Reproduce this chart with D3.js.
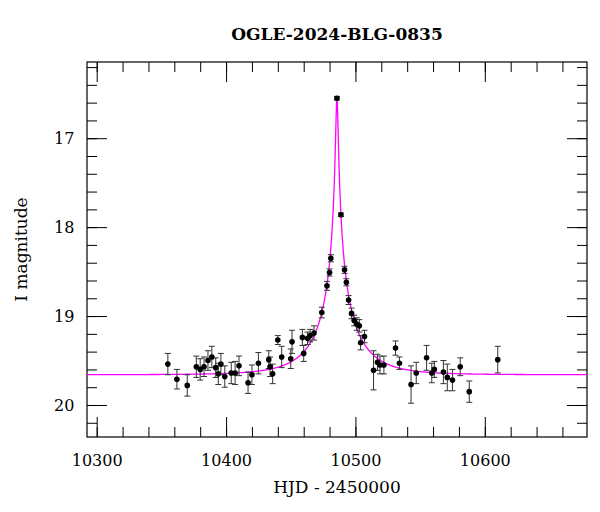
<!DOCTYPE html>
<html>
<head>
<meta charset="utf-8">
<script src="https://cdn.jsdelivr.net/npm/d3@7"></script>
<style>
  body { margin: 0; background: #fff; }
  text { font-family: "DejaVu Serif", serif; }
</style>
</head>
<body>
<div id="chart"></div>
<script>
const width = 600;
const height = 512;
const margin = { top: 62, right: 13, bottom: 75, left: 87 };

// observations: HJD-2450000, I mag, error
const hjd = [10355, 10362, 10370, 10377, 10380, 10383, 10386, 10389, 10392, 10394, 10396, 10399,
  10404, 10407, 10410, 10417, 10420, 10425, 10433, 10434, 10436, 10440, 10443, 10450, 10451,
  10459, 10460, 10463, 10465, 10468, 10474, 10478, 10480, 10481, 10485.7, 10488.8, 10491.6,
  10493, 10494.7, 10497, 10499, 10501, 10503, 10504, 10507, 10514, 10517, 10519, 10522, 10531,
  10534, 10543, 10547, 10555, 10559, 10561, 10568, 10571, 10575, 10581, 10588, 10610];
const mag = [19.54, 19.71, 19.78, 19.57, 19.60, 19.57, 19.50, 19.46, 19.58, 19.65, 19.54, 19.68,
  19.64, 19.64, 19.56, 19.75, 19.66, 19.53, 19.49, 19.57, 19.65, 19.27, 19.46, 19.48, 19.29,
  19.24, 19.42, 19.25, 19.22, 19.19, 18.96, 18.66, 18.51, 18.35, 16.55, 17.86, 18.48,
  18.62, 18.82, 18.97, 19.05, 19.09, 19.11, 19.30, 19.23, 19.61, 19.52, 19.55, 19.55, 19.36,
  19.53, 19.77, 19.64, 19.47, 19.64, 19.60, 19.63, 19.69, 19.72, 19.57, 19.85, 19.49];
const err = [0.12, 0.11, 0.12, 0.12, 0.12, 0.11, 0.11, 0.12, 0.11, 0.12, 0.12, 0.12,
  0.12, 0.13, 0.11, 0.12, 0.11, 0.12, 0.10, 0.11, 0.11, 0.05, 0.12, 0.11, 0.13,
  0.09, 0.09, 0.07, 0.07, 0.08, 0.06, 0.05, 0.04, 0.04, 0.02, 0.02, 0.04,
  0.04, 0.05, 0.06, 0.06, 0.07, 0.07, 0.08, 0.07, 0.22, 0.09, 0.10, 0.10, 0.08,
  0.07, 0.21, 0.12, 0.14, 0.11, 0.09, 0.13, 0.15, 0.12, 0.10, 0.12, 0.15];

// blended point-lens model parameters
const t0 = 10485.7, tE = 35, u0 = 0.0254, fs = 0.43, baseMag = 19.66;

const xTicks = [10300, 10400, 10500, 10600];
const yTicks = [17, 18, 19, 20];

const iw = width - margin.left - margin.right;
const ih = height - margin.top - margin.bottom;

const x = d3.scaleLinear().domain([10292.5, 10679]).range([0, iw]);
const y = d3.scaleLinear().domain([16.143, 20.36]).range([0, ih]);

const svg = d3.select('#chart').append('svg')
  .attr('width', width).attr('height', height);
const g = svg.append('g').attr('transform', `translate(${margin.left},${margin.top})`);

// ticks on all four sides, pointing inward
const xMinor = d3.range(10300, 10680, 20);
const yMinor = d3.range(16.2, 20.35, 0.2);
function ticks(axis, tr, vals, size, fmt) {
  const a = g.append('g').attr('transform', tr)
    .call(axis.tickValues(vals).tickSize(size).tickSizeOuter(0).tickFormat(fmt));
  a.select('.domain').remove();
  a.selectAll('line').attr('stroke', '#000');
  return a;
}
const none = () => '';
ticks(d3.axisBottom(x), `translate(0,${ih})`, xMinor, -10, none);
ticks(d3.axisBottom(x), `translate(0,${ih})`, xTicks, -20, d3.format('d'))
  .selectAll('text').attr('dy', '1.6em').attr('font-size', 16);
ticks(d3.axisTop(x), 'translate(0,0)', xMinor, -10, none);
ticks(d3.axisTop(x), 'translate(0,0)', xTicks, -20, none);
ticks(d3.axisLeft(y), 'translate(0,0)', yMinor, -10, none);
ticks(d3.axisLeft(y), 'translate(0,0)', yTicks, -20, d3.format('d'))
  .selectAll('text').attr('dx', '-0.6em').attr('font-size', 16);
ticks(d3.axisRight(y), `translate(${iw},0)`, yMinor, -10, none);
ticks(d3.axisRight(y), `translate(${iw},0)`, yTicks, -20, none);

g.append('rect').attr('width', iw).attr('height', ih)
  .attr('fill', 'none').attr('stroke', '#000').attr('stroke-width', 1.2);

// model curve
g.append('clipPath').attr('id', 'clip').append('rect').attr('width', iw).attr('height', ih);
const model = d3.range(10292.5, 10679, 0.05).map(t => {
  const u = Math.sqrt(u0 * u0 + ((t - t0) / tE) ** 2);
  const A = (u * u + 2) / (u * Math.sqrt(u * u + 4));
  return [t, baseMag - 2.5 * Math.log10(fs * A + 1 - fs)];
});
g.append('path').datum(model)
  .attr('clip-path', 'url(#clip)')
  .attr('fill', 'none').attr('stroke', '#ff00ff').attr('stroke-width', 1.3)
  .attr('d', d3.line().x(d => x(d[0])).y(d => y(d[1])));

// data with error bars
const data = hjd.map((t, i) => ({ t, m: mag[i], e: err[i] }));
const eb = g.append('g').attr('stroke', '#333').attr('stroke-width', 1);
data.forEach(d => {
  const cx = x(d.t);
  eb.append('line').attr('x1', cx).attr('x2', cx).attr('y1', y(d.m - d.e)).attr('y2', y(d.m + d.e));
  [d.m - d.e, d.m + d.e].forEach(v =>
    eb.append('line').attr('x1', cx - 3).attr('x2', cx + 3).attr('y1', y(v)).attr('y2', y(v)));
});
g.append('g').selectAll('circle').data(data).join('circle')
  .attr('cx', d => x(d.t)).attr('cy', d => y(d.m)).attr('r', 2.8).attr('fill', '#000');

// labels
svg.append('text').attr('x', margin.left + iw / 2).attr('y', 40)
  .attr('text-anchor', 'middle').attr('font-size', 17).attr('font-weight', 'bold')
  .text('OGLE-2024-BLG-0835');
svg.append('text').attr('x', margin.left + iw / 2).attr('y', 493)
  .attr('text-anchor', 'middle').attr('font-size', 17).text('HJD - 2450000');
svg.append('text').attr('transform', `translate(27,${margin.top + ih / 2}) rotate(-90)`)
  .attr('text-anchor', 'middle').attr('font-size', 17).text('I magnitude');
</script>
</body>
</html>
